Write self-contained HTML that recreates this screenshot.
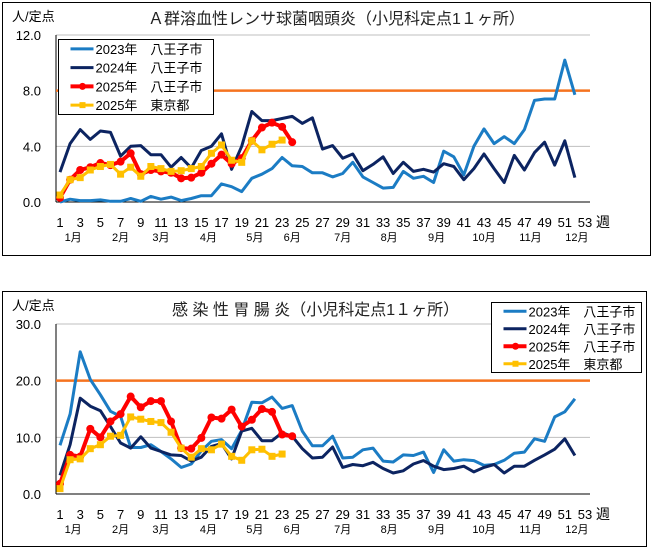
<!DOCTYPE html>
<html><head><meta charset="utf-8">
<style>
body{margin:0;background:#fff;width:653px;height:549px;overflow:hidden;font-family:"Liberation Sans","Noto Sans CJK JP",sans-serif;}
svg text{font-family:"Liberation Sans","Noto Sans CJK JP",sans-serif;}
</style></head>
<body>
<svg id="svg" width="653" height="549" xmlns="http://www.w3.org/2000/svg"></svg>
<script>
const weeks = Array.from({length:53},(_,i)=>i+1);
const tickLabels = weeks.filter(w=>w%2===1).map(String);
const months = ["1月","2月","3月","4月","5月","6月","7月","8月","9月","10月","11月","12月"];
const monthWeeks = [2.3,7,11,15.7,20.3,24,29,33.6,38.3,43,47.6,52.2];
const seriesNames = ["2023年　八王子市","2024年　八王子市","2025年　八王子市","2025年　東京都"];

const strepTitle = "Ａ群溶血性レンサ球菌咽頭炎（小児科定点1１ヶ所）";
const strepTicks = [0,4,8,12];
const strepThreshold = 8.0;
const strep2023 = [0.0,0.2,0.1,0.1,0.15,0.05,0.05,0.25,0.05,0.4,0.2,0.35,0.1,0.25,0.45,0.45,1.3,1.1,0.75,1.7,2.0,2.4,3.2,2.6,2.55,2.1,2.1,1.8,2.05,2.85,1.8,1.4,1.0,1.05,2.2,1.7,1.85,1.4,3.65,3.25,1.95,4.0,5.25,4.2,4.7,4.2,5.2,7.3,7.4,7.4,10.2,7.7];
const strep2024 = [2.15,4.2,5.2,4.5,5.1,5.0,3.3,4.0,4.05,3.4,3.4,2.5,3.2,2.45,3.7,4.0,4.9,2.35,4.0,6.5,5.85,5.85,6.0,6.15,5.65,6.05,3.8,4.05,3.15,3.45,2.25,2.7,3.25,2.05,2.85,2.2,2.35,2.15,2.75,2.55,1.6,2.4,3.45,2.4,1.4,3.35,2.3,3.55,4.3,2.65,4.4,1.75];
const strep2025H = [0.3,1.6,2.3,2.5,2.8,2.65,2.9,3.5,2.0,2.3,2.2,2.1,1.7,1.75,2.1,2.75,3.4,2.75,3.15,4.4,5.35,5.7,5.4,4.3];
const strep2025T = [0.5,1.6,1.75,2.3,2.55,2.7,2.0,2.5,1.85,2.55,2.4,2.2,2.25,2.4,2.55,3.5,4.1,3.0,2.85,4.4,3.75,4.15,4.45];

const gastroTitle = "感 染 性 胃 腸 炎（小児科定点1１ヶ所）";
const gastroTicks = [0,10,20,30];
const gastroThreshold = 20.0;
const gastro2023 = [8.6,14.1,25.1,20.2,17.5,14.6,13.7,8.2,8.2,8.7,7.5,6.2,4.7,5.3,7.6,9.3,9.6,8.0,11.2,16.2,16.1,17.1,15.1,15.6,11.1,8.5,8.5,10.2,6.35,6.5,7.8,8.1,5.8,5.65,6.9,6.8,7.4,3.8,7.8,5.8,6.05,5.9,5.05,5.2,5.95,7.2,7.4,9.75,9.3,13.6,14.5,16.8];
const gastro2024 = [3.3,8.7,16.9,15.5,14.7,11.9,9.0,8.1,10.1,8.1,7.5,6.9,6.8,5.8,6.5,8.4,8.9,6.2,11.1,11.6,9.4,9.4,10.8,10.2,8.0,6.35,6.5,8.3,4.7,5.2,5.0,5.6,4.5,3.7,4.1,5.3,5.9,4.9,4.3,4.5,4.9,3.9,4.7,5.2,3.7,4.9,4.9,5.95,6.9,7.9,9.75,6.8];
const gastro2025H = [1.8,6.9,6.6,11.5,10.0,12.8,14.1,17.2,15.3,16.4,16.4,12.8,8.1,8.0,9.9,13.5,13.3,14.9,11.9,13.1,15.0,14.5,10.5,10.2];
const gastro2025T = [0.95,6.05,6.2,8.0,8.7,10.2,10.35,13.6,13.2,12.8,12.6,10.9,8.1,6.5,8.0,7.8,8.8,6.65,5.95,7.8,7.9,6.65,7.05];

const NS="http://www.w3.org/2000/svg";
const svg=document.getElementById('svg');
function mk(tag,attrs,parent){const e=document.createElementNS(NS,tag);for(const k in attrs)e.setAttribute(k,attrs[k]);(parent||svg).appendChild(e);return e;}
const COLORS=["#1b7cc4","#0c2461","#ff0000","#ffc000"];

function drawChart(cfg){
  const g=mk('g',{});
  
  
  const fr=mk('rect',{x:cfg.frame[0],y:cfg.frame[1],width:cfg.frame[2],height:cfg.frame[3],fill:'#fff',stroke:'#000','stroke-width':1},g);
  
  
  const x0=56,x1=590,wx0=60,wx1=585;
  const X=w=>wx0+(w-1)*(wx1-wx0)/52;
  const ymax=cfg.ticks[cfg.ticks.length-1];
  const Y=v=>cfg.y0-(v/ymax)*(cfg.y0-cfg.yTop);
  cfg.ticks.forEach((t,i)=>{
    if(i>0){const gl=mk('line',{x1:x0,x2:x1,y1:Y(t),y2:Y(t),stroke:'#bfbfbf','stroke-width':1},g);
      
      }
    const tl=mk('text',{x:41,y:Y(t)+5,'font-size':13,'text-anchor':'end',fill:'#000'},g);
    tl.textContent=t.toFixed(1);
    
    
  });
  const ya=mk('line',{x1:x0,x2:x0,y1:cfg.yTop,y2:cfg.y0,stroke:'#000','stroke-width':1},g);
  
  
  const xa=mk('line',{x1:x0,x2:x1,y1:cfg.y0,y2:cfg.y0,stroke:'#000','stroke-width':1},g);
  
  
  const th=mk('line',{x1:x0,x2:x1,y1:Y(cfg.threshold),y2:Y(cfg.threshold),stroke:'#f5731f','stroke-width':2.5},g);
  
  
  tickLabels.forEach(t=>{
    const tx=mk('text',{x:X(+t),y:cfg.y0+25,'font-size':13,'text-anchor':'middle'},g);
    tx.textContent=t;
    
    
  });
  const wk=mk('text',{x:603,y:cfg.y0+25,'font-size':14,'text-anchor':'middle'},g);
  wk.textContent='週';
  
  
  months.forEach((m,i)=>{
    const mt=mk('text',{x:X(monthWeeks[i]),y:cfg.y0+39,'font-size':11,'text-anchor':'middle'},g);
    mt.textContent=m;
    
    
  });
  const un=mk('text',{x:12,y:cfg.yTop-14,'font-size':13},g);
  un.textContent='人/定点';
  
  
  const ti=mk('text',{x:cfg.titleX,y:cfg.titleY,'font-size':16,fill:'#222'},g);
  ti.textContent=cfg.title;
  
  
  cfg.series.forEach((s,si)=>{
    const pts=s.map((v,i)=>X(i+1).toFixed(1)+','+Y(v).toFixed(1)).join(' ');
    const pl=mk('polyline',{points:pts,fill:'none',stroke:COLORS[si],'stroke-width':si===2?4:3,'stroke-linejoin':'round'},g);
    
    
    if(si===2){s.forEach((v,i)=>{const c=mk('circle',{cx:X(i+1),cy:Y(v),r:4,fill:COLORS[2]},g);
      
      });}
    if(si===3){s.forEach((v,i)=>{const r=mk('rect',{x:X(i+1)-3.5,y:Y(v)-3.5,width:7,height:7,fill:COLORS[3]},g);
      
      });}
  });
  const L=cfg.legend;
  const lg=mk('g',{},g);
  
  
  mk('rect',{x:L[0],y:L[1],width:L[2],height:L[3],fill:'#fff',stroke:'#000','stroke-width':1},lg);
  const rowH=L[3]/4;
  seriesNames.forEach((n,i)=>{
    const cy=L[1]+rowH*(i+0.5);
    const ln=mk('line',{x1:L[0]+12,x2:L[0]+35,y1:cy,y2:cy,stroke:COLORS[i],'stroke-width':i===2?4:3},lg);
    
    
    if(i===2)mk('circle',{cx:L[0]+24,cy:cy,r:3.5,fill:COLORS[2]},lg);
    if(i===3)mk('rect',{x:L[0]+21,y:cy-3,width:6,height:6,fill:COLORS[3]},lg);
    const lt=mk('text',{x:L[0]+37,y:cy+5,'font-size':13},lg);
    lt.textContent=n;
    
    
  });
}

drawChart({name:'strep-chart',frame:[2.5,2.5,648,253],y0:202,yTop:35,ticks:strepTicks,threshold:strepThreshold,
  title:strepTitle,titleX:148,titleY:24,legend:[58.5,39.5,155,75],
  series:[strep2023,strep2024,strep2025H,strep2025T]});
drawChart({name:'gastro-chart',frame:[2.5,291.5,644,255],y0:494,yTop:324,ticks:gastroTicks,threshold:gastroThreshold,
  title:gastroTitle,titleX:172,titleY:315,legend:[491.5,302.5,150,70],
  series:[gastro2023,gastro2024,gastro2025H,gastro2025T]});
</script>
</body></html>
